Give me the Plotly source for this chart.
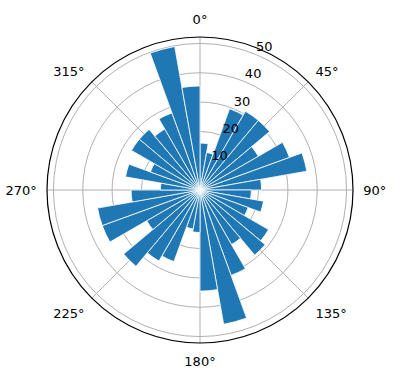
import plotly.graph_objects as go

# 36 bins of 10 degrees, clockwise from north
bin_start_deg = list(range(0, 360, 10))
counts = [16, 13, 29.5, 31, 31, 23, 32.5, 37, 21,
          17.5, 22, 17.5, 27, 29, 21.5, 31, 46.5, 34.5,
          14.5, 13.5, 26, 28, 34, 21, 35.5, 35.5, 23.5,
          13.5, 25.8, 18, 27, 27, 24, 28, 49.7, 35.5]
angle_ticks = [0, 45, 90, 135, 180, 225, 270, 315]
angle_labels = ["0°", "45°", "90°", "135°", "180°", "225°", "270°", "315°"]
radial_ticks = [10, 20, 30, 40, 50]
radial_labels = ["10", "20", "30", "40", "50"]
radial_label_angle = 22.5

centers = [s + 5 for s in bin_start_deg]

fig = go.Figure()
fig.add_trace(go.Barpolar(
    r=counts, theta=centers, width=[10] * len(centers),
    marker=dict(color="#1f77b4", line=dict(color="white", width=0.8)),
    hoverinfo="skip",
))

font = dict(family="DejaVu Sans", size=13, color="black")

# radial tick labels, drawn like matplotlib (at 22.5 deg, left/bottom aligned)
fig.add_trace(go.Scatterpolar(
    r=radial_ticks, theta=[radial_label_angle] * len(radial_ticks),
    mode="text", text=radial_labels, textposition="top right",
    textfont=font, cliponaxis=False, hoverinfo="skip",
))

fig.update_layout(
    width=396, height=380,
    margin=dict(l=47, r=43, t=37, b=37),
    paper_bgcolor="white",
    showlegend=False,
    font=font,
    polar=dict(
        bgcolor="white",
        bargap=0,
        angularaxis=dict(
            rotation=90, direction="clockwise",
            tickmode="array", tickvals=angle_ticks, ticktext=angle_labels,
            showline=True, linecolor="black", linewidth=1.2,
            showgrid=True, gridcolor="#b0b0b0", gridwidth=0.8,
            ticks="outside", ticklen=7, tickcolor="rgba(0,0,0,0)",
            tickfont=font,
        ),
        radialaxis=dict(
            range=[0, 52.2], angle=67.5,
            tickmode="array", tickvals=radial_ticks,
            showticklabels=False,
            showline=False, ticks="",
            showgrid=True, gridcolor="#b0b0b0", gridwidth=0.8,
            layer="above traces",
        ),
    ),
)

fig.write_html("out.html")
